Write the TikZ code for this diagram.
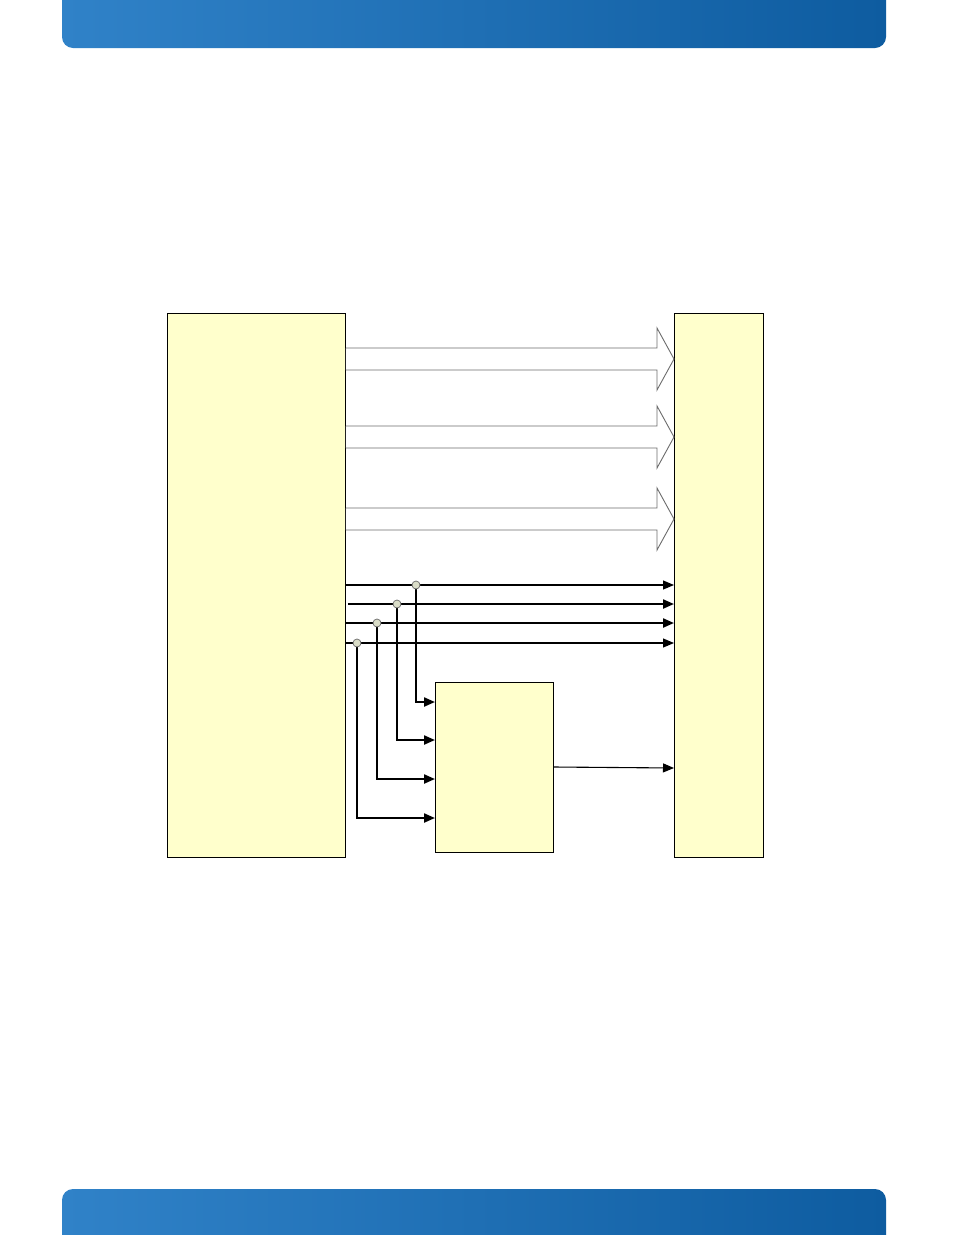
\documentclass[tikz,border=0pt]{standalone}
\usetikzlibrary{arrows.meta}
\definecolor{boxfill}{HTML}{FFFFCC}
\definecolor{barleft}{HTML}{3082C8}
\definecolor{barmid}{HTML}{1072BA}
\definecolor{barright}{HTML}{0E5CA0}
\definecolor{dotfill}{HTML}{DADDC8}
\tikzset{
  block/.style={rectangle,draw=black,line width=0.9pt,fill=boxfill,anchor=north west,inner sep=0pt},
  bus/.style={draw=gray!85!black,line width=0.9pt,fill=white,line join=miter},
  sig/.style={line width=1.1pt,-{Triangle[length=11pt,width=9pt]}},
  sigthick/.style={line width=2.2pt,-{Triangle[length=11pt,width=9pt]}},
  dot/.style={circle,draw=gray!80!black,line width=0.7pt,fill=dotfill,inner sep=0pt,minimum size=8pt}
}
\begin{document}
\begin{tikzpicture}[x=1pt,y=-1pt]
	\useasboundingbox[fill=white] (0,0) rectangle (954,1235);
	% page bars
	\shade[left color=barleft,middle color=barmid,right color=barright]
		(62,0) [rounded corners=11pt] -- (62,48) -- (886,48) [sharp corners] -- (886,0) -- cycle;
	\shade[left color=barleft,middle color=barmid,right color=barright]
		(62,1235) [rounded corners=11pt] -- (62,1189) -- (886,1189) [sharp corners] -- (886,1235) -- cycle;
	% blocks
	\node (Cpu) [block,minimum width=178pt,minimum height=544pt] at (167,313) {};
	\node (Conn) [block,minimum width=89pt,minimum height=544pt] at (674,313) {};
	\node (Logic) [block,minimum width=118pt,minimum height=170pt] at (435,682) {};
	% wide buses
	\foreach \y in {359,437,519}
		\draw[bus] (Cpu.east |- 0,\y-11) -- (657,\y-11) -- (657,\y-31) -- (Conn.west |- 0,\y)
			-- (657,\y+31) -- (657,\y+11) -- (Cpu.east |- 0,\y+11);
	% junctions
	\coordinate (j1) at (416,585);
	\coordinate (j2) at (397,604);
	\coordinate (j3) at (377,623);
	\coordinate (j4) at (357,643);
	% signals to the connector
	\draw[sig] (Cpu.east |- j1) -- (Conn.west |- j1);
	\draw[sigthick] ([xshift=2pt]Cpu.east |- j2) -- (Conn.west |- j2);
	\draw[sigthick] (Cpu.east |- j3) -- (Conn.west |- j3);
	\draw[sig] (Cpu.east |- j4) -- (Conn.west |- j4);
	% taps into the logic block
	\draw[sigthick] (j1) |- (Logic.west |- 0,702);
	\draw[line width=1.1pt] (j2) -- (j2 |- 0,741);
	\draw[sigthick] ([xshift=-0.5pt]j2 |- 0,740) -- (Logic.west |- 0,740);
	\draw[sigthick] (j3) |- (Logic.west |- 0,779);
	\draw[line width=1.1pt] (j4) -- (j4 |- 0,819);
	\draw[sigthick] ([xshift=-0.5pt]j4 |- 0,818) -- (Logic.west |- 0,818);
	% output
	\draw[sig] (Logic.east |- 0,767) -- (Conn.west |- 0,768);
	\foreach \j in {j1,j2,j3,j4}
		\node[dot] at (\j) {};
\end{tikzpicture}
\end{document}
